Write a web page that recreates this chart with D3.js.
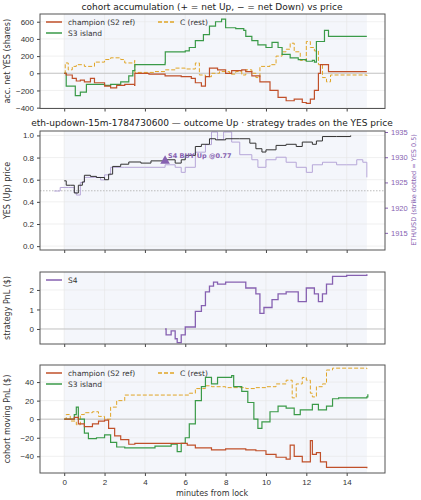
<!DOCTYPE html><html><head><meta charset="utf-8"><script src="https://cdn.jsdelivr.net/npm/d3@7"></script>
<style>body{margin:0;background:#fff}svg{font-family:"DejaVu Sans",sans-serif}</style></head><body><svg id="c" width="421" height="500"></svg>
<script>
const xTicks=[0,2,4,6,8,10,12,14];
const accChampion=[[0,0],[0.1,-20],[0.4,-60],[0.6,-90],[0.8,-80],[1.0,-100],[1.3,-60],[1.5,-110],[2.0,-150],[2.3,-170],[2.6,-140],[3.0,-130],[3.49,-140],[3.5,0],[4.2,-10],[5.0,-30],[5.8,-40],[6.3,-60],[6.5,-110],[6.8,-150],[7.0,-40],[7.2,60],[7.6,40],[8.0,0],[8.3,30],[8.8,40],[9.0,20],[9.3,-30],[9.7,-100],[10.2,-200],[10.6,-280],[11.0,-320],[11.4,-300],[11.8,-340],[12.0,-350],[12.2,-300],[12.4,-200],[12.6,0],[12.7,100],[13.0,100],[13.1,20],[15,20]];
const accS3=[[0,0],[0.1,-150],[0.55,-260],[0.8,-220],[1.1,-130],[2,-140],[2.3,-130],[2.8,-100],[3.2,-30],[3.4,30],[3.5,100],[5,120],[5.01,250],[6,260],[6.2,300],[6.5,380],[6.9,450],[7.2,550],[7.5,600],[7.8,630],[8.0,530],[8.5,520],[8.9,500],[9,430],[9.3,380],[9.6,330],[10.0,300],[10.3,360],[10.6,300],[10.8,220],[11.2,180],[11.6,160],[12.0,140],[12.3,150],[12.4,130],[12.5,370],[12.9,500],[13.1,430],[15,430]];
const accC=[[0,0],[0.05,120],[0.2,40],[0.4,80],[0.6,100],[1.0,80],[1.5,130],[2.0,160],[2.3,180],[2.8,160],[3.0,120],[3.49,150],[3.5,10],[4.5,20],[5.0,40],[5.5,60],[6.0,50],[6.5,120],[6.7,-20],[7,-40],[7.3,0],[7.7,20],[8.2,-10],[8.5,20],[8.8,-20],[9.0,40],[9.3,0],[9.5,-50],[9.7,80],[10.2,100],[10.5,200],[10.8,250],[11.0,280],[11.2,350],[11.4,250],[11.7,150],[12.0,370],[12.2,300],[12.4,260],[12.6,100],[12.8,-50],[13.0,-100],[13.2,-20],[15,-30]];
const yesPrice=[[0,0.59],[0.1,0.55],[0.3,0.55],[0.5,0.48],[0.7,0.55],[0.9,0.58],[1.0,0.64],[1.3,0.63],[1.6,0.62],[2.0,0.60],[2.2,0.65],[2.4,0.72],[2.8,0.74],[3.2,0.76],[3.8,0.75],[4.3,0.77],[5.0,0.78],[5.5,0.75],[5.8,0.78],[6.0,0.82],[6.5,0.90],[6.8,0.92],[7.2,0.97],[7.5,0.96],[8.0,0.97],[8.7,0.97],[9.2,0.93],[9.5,0.88],[9.8,0.85],[10.0,0.87],[10.5,0.91],[11.0,0.92],[11.5,0.90],[11.8,0.94],[12.3,0.92],[12.5,0.95],[12.8,0.99],[13.5,0.99],[14.2,1.0]];
const ethPrice=[[-0.5,1923.3],[-0.2,1924],[0.2,1924],[0.5,1923],[0.6,1922.5],[0.8,1925],[1.0,1926],[1.5,1926],[1.8,1925.5],[2.0,1926.5],[2.3,1928],[3.0,1928],[4.0,1928],[5.0,1928.5],[5.5,1928],[5.8,1927],[6.0,1928],[6.5,1931],[7.0,1932.5],[7.3,1935],[7.6,1933.5],[7.9,1935],[8.3,1933],[8.7,1930.5],[9.3,1929.5],[9.6,1928],[10,1929.5],[10.5,1930],[11,1929],[11.5,1928],[12,1927],[12.3,1928.5],[12.8,1929],[13.5,1928.5],[14,1928.5],[14.5,1929.5],[14.8,1929],[15,1926]];
const trade={t:5.0,price:0.77,label:"S4 BUY Up @0.77"};
const pnlS4=[[5,0],[5.05,-0.3],[5.3,-0.1],[5.5,-0.5],[5.6,-0.7],[5.8,-0.3],[6.0,0.1],[6.3,0.1],[6.5,0.9],[6.8,1.2],[7.0,1.9],[7.2,2.2],[7.4,2.4],[7.6,2.3],[8.0,2.4],[8.5,2.4],[9.0,2.1],[9.5,1.8],[9.7,0.8],[9.9,1.1],[10.3,1.5],[10.6,1.8],[11,1.9],[11.3,1.9],[11.6,1.4],[12,2.1],[12.4,1.8],[12.6,1.4],[12.8,1.8],[13.0,2.3],[13.3,2.7],[14,2.75],[15,2.8]];
const pnlChampion=[[0,0],[0.5,2],[0.7,-5],[1,-8],[1.4,-5],[1.7,-2],[2.0,-1],[2.2,-10],[2.5,-18],[2.8,-22],[3.2,-27],[3.5,-26],[5.5,-26],[6.1,-28],[6.5,-31],[7.3,-33],[8,-32],[9,-33],[9.5,-34],[10,-38],[10.5,-41],[11,-43],[11.2,-28],[11.4,-40],[11.8,-46],[12.2,-23],[12.3,-38],[12.5,-36],[12.7,-46],[13,-52],[15,-53]];
const pnlS3=[[0,0],[0.5,5],[0.6,13],[0.7,0],[1.0,-15],[1.2,-21],[1.6,-20],[2.0,-17],[2.3,-25],[2.6,-30],[3,-31],[4,-31],[4.5,-29],[5.3,-27],[5.6,-35],[5.8,-26],[6.0,-20],[6.2,-5],[6.5,20],[6.8,35],[7.0,45],[7.3,38],[7.6,45],[8.3,47],[8.4,35],[8.8,30],[9.1,18],[9.4,0],[9.6,-10],[9.8,-3],[10.2,8],[10.6,14],[11,12],[11.4,5],[11.7,10],[12.3,16],[12.6,10],[13,14],[13.3,22],[13.6,23],[15,24],[15.05,27]];
const pnlC=[[0,0],[0.1,5],[0.3,-2],[0.6,-6],[0.8,5],[1.0,7],[1.4,8],[1.7,3],[2.0,0],[2.3,13],[2.6,20],[3.0,26],[3.3,26],[5.8,26],[6.2,28],[6.5,33],[7.0,36],[7.3,35],[8,34],[9,33],[9.5,34],[10,35],[10.5,38],[11,42],[11.3,23],[11.5,38],[11.8,45],[12.0,42],[12.2,28],[12.3,24],[12.5,35],[12.8,38],[13,53],[13.3,55],[15,54]];

const RED="#c0502a",GREEN="#3a9a48",ORANGE="#e0a526",PURPLE="#8661b1",ETH="#b6a6d8";
const svg=d3.select("#c");
const L=40,R=385;
const x=d3.scaleLinear().domain([-1.2,15.9]).range([L,R]);
function panel(top,bot,dom,ticks,ylab,showX,fmt){
  const g=svg.append("g");
  const y=d3.scaleLinear().domain(dom).range([bot,top]);
  g.append("rect").attr("x",x(0)).attr("y",top).attr("width",x(15)-x(0)).attr("height",bot-top).attr("fill","#f4f6fb");
  g.selectAll(".gx").data(xTicks).join("line").attr("x1",d=>x(d)).attr("x2",d=>x(d)).attr("y1",top).attr("y2",bot).attr("stroke","#e6e6e6").attr("stroke-width",0.6);
  g.selectAll(".gy").data(ticks).join("line").attr("x1",L).attr("x2",R).attr("y1",d=>y(d)).attr("y2",d=>y(d)).attr("stroke","#e6e6e6").attr("stroke-width",0.6);
  const ya=g.append("g").attr("transform",`translate(${L},0)`).call(d3.axisLeft(y).tickValues(ticks).tickSize(3).tickFormat(fmt||(d=>d<0?"\u2212"+(-d):d)));
  const xa=g.append("g").attr("transform",`translate(0,${bot})`).call(d3.axisBottom(x).tickValues(xTicks).tickSize(3).tickFormat(showX?(d=>d):""));
  [ya,xa].forEach(a=>{a.select(".domain").remove();a.selectAll("text").attr("font-size",8).attr("fill","#333");a.selectAll("line").attr("stroke","#444");});
  g.append("text").attr("transform",`translate(10,${(top+bot)/2}) rotate(-90)`).attr("text-anchor","middle").attr("font-size",8).attr("fill","#333").text(ylab);
  return {g,y,top,bot};
}
function frame(p){p.g.append("rect").attr("x",L).attr("y",p.top).attr("width",R-L).attr("height",p.bot-p.top).attr("fill","none").attr("stroke","#555").attr("stroke-width",1);}
function line(p,data,col,w,dash,yy){const ys=yy||p.y;
  const pth=p.g.append("path").datum(data).attr("fill","none").attr("stroke",col).attr("stroke-width",w).attr("d",d3.line().x(d=>x(d[0])).y(d=>ys(d[1])).curve(d3.curveStepAfter));
  if(dash)pth.attr("stroke-dasharray",dash);}
function zero(p){p.g.append("line").attr("x1",L).attr("x2",R).attr("y1",p.y(0)).attr("y2",p.y(0)).attr("stroke","#bbb").attr("stroke-width",0.8);}
function legend(p,items){items.forEach((it,i)=>{const lx=L+6+it.col*112,ly=p.top+8+it.row*11;
  const l=p.g.append("line").attr("x1",lx).attr("x2",lx+16).attr("y1",ly).attr("y2",ly).attr("stroke",it.c).attr("stroke-width",1.5);if(it.d)l.attr("stroke-dasharray",it.d);
  p.g.append("text").attr("x",lx+22).attr("y",ly+3).attr("font-size",7.5).attr("fill","#333").text(it.t);});}
function title(yv,t){svg.append("text").attr("x",212).attr("y",yv).attr("text-anchor","middle").attr("font-size",9).attr("fill","#222").text(t);}

title(10,"cohort accumulation (+ = net Up, \u2212 = net Down) vs price");
const p1=panel(14,108.5,[-410,690],[-400,-200,0,200,400,600],"acc. net YES (shares)",false);
zero(p1);
line(p1,accC,ORANGE,1,"4,2");line(p1,accS3,GREEN,1.2);line(p1,accChampion,RED,1.2);
legend(p1,[{t:"champion (S2 ref)",c:RED,col:0,row:0},{t:"S3 island",c:GREEN,col:0,row:1},{t:"C (rest)",c:ORANGE,d:"4,2",col:1,row:0}]);
frame(p1);

title(126,"eth-updown-15m-1784730600 \u2014 outcome Up \u00b7 strategy trades on the YES price");
const p2=panel(131,250,[-0.035,1.04],[0,0.2,0.4,0.6,0.8,1.0],"YES (Up) price",false,d3.format(".1f"));
const y2=d3.scaleLinear().domain([1911.6,1935.2]).range([250,131]);
p2.g.append("line").attr("x1",L).attr("x2",R).attr("y1",p2.y(0.5)).attr("y2",p2.y(0.5)).attr("stroke","#bbb").attr("stroke-dasharray","1.5,1.5");
line(p2,ethPrice,ETH,1,null,y2);
p2.g.append("path").datum(yesPrice).attr("fill","none").attr("stroke","#333").attr("stroke-width",1).attr("d",d3.line().x(d=>x(d[0])).y(d=>p2.y(d[1])).curve(d3.curveStepAfter));
p2.g.append("path").attr("d",d3.symbol(d3.symbolTriangle,40)()).attr("transform",`translate(${x(trade.t)},${p2.y(trade.price)})`).attr("fill",PURPLE);
p2.g.append("text").attr("x",x(trade.t)+3).attr("y",p2.y(trade.price)-3).attr("font-size",6.5).attr("font-weight","bold").attr("fill",PURPLE).text(trade.label);
const ra=p2.g.append("g").attr("transform",`translate(${R},0)`).call(d3.axisRight(y2).tickValues([1915,1920,1925,1930,1935]).tickSize(3).tickFormat(d3.format("d")));
ra.select(".domain").remove();ra.selectAll("text").attr("font-size",7.5).attr("fill",PURPLE);ra.selectAll("line").attr("stroke",PURPLE);
p2.g.append("text").attr("transform",`translate(416,190) rotate(-90)`).attr("text-anchor","middle").attr("font-size",6.5).attr("fill",PURPLE).text("ETH/USD (strike dotted = YES 0.5)");
frame(p2);

const p3=panel(272,344,[-0.77,2.92],[0,1,2],"strategy PnL ($)",false);
zero(p3);line(p3,pnlS4,PURPLE,1.3);
legend(p3,[{t:"S4",c:PURPLE,col:0,row:0}]);frame(p3);

const p4=panel(365,473,[-58,58.4],[-40,-20,0,20,40],"cohort moving PnL ($)",true);
zero(p4);
line(p4,pnlC,ORANGE,1,"4,2");line(p4,pnlS3,GREEN,1.2);line(p4,pnlChampion,RED,1.2);
legend(p4,[{t:"champion (S2 ref)",c:RED,col:0,row:0},{t:"S3 island",c:GREEN,col:0,row:1},{t:"C (rest)",c:ORANGE,d:"4,2",col:1,row:0}]);
frame(p4);
svg.append("text").attr("x",212).attr("y",496).attr("text-anchor","middle").attr("font-size",8).attr("fill","#333").text("minutes from lock");
</script></body></html>
